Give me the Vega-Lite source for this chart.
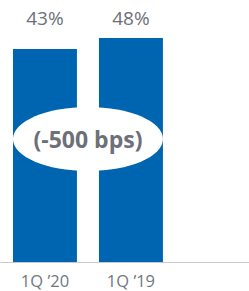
{
  "$schema": "https://vega.github.io/schema/vega-lite/v6.json",
  "width": 249,
  "height": 262,
  "autosize": "none",
  "padding": {"left": 0, "top": 0, "right": 0, "bottom": 29},
  "background": "white",
  "config": {"view": {"stroke": null}},
  "encoding": {
    "x": {
      "field": "period",
      "type": "nominal",
      "sort": null,
      "scale": {"paddingInner": 0.256, "paddingOuter": 0.576, "align": 0.131},
      "axis": {
        "title": null,
        "ticks": false,
        "domainColor": "#c8c8c8",
        "domainWidth": 1,
        "labelAngle": 0,
        "labelFont": "Open Sans",
        "labelFontSize": 16.5,
        "labelColor": "#707780",
        "labelPadding": 11
      }
    }
  },
  "layer": [
    {
      "data": {"values": [
        {"period": "1Q ’20", "value": 43, "label": "43%"},
        {"period": "1Q ’19", "value": 48, "label": "48%"}
      ]},
      "layer": [
        {
          "mark": {"type": "bar", "color": "#0065B0"},
          "encoding": {
            "y": {"field": "value", "type": "quantitative", "scale": {"domain": [-53.8, 65.3], "nice": false, "zero": false}, "axis": null},
            "y2": {"datum": -53.8}
          }
        },
        {
          "mark": {"type": "text", "font": "Open Sans", "fontSize": 19, "color": "#6b7079", "baseline": "middle"},
          "encoding": {
            "y": {"datum": 56.7, "type": "quantitative"},
            "text": {"field": "label"}
          }
        }
      ]
    },
    {
      "data": {"values": [{"period": "1Q ’20", "note": "(-500 bps)"}]},
      "layer": [
        {
          "mark": {"type": "point", "shape": "M-1,0 A1,0.4267 0 1,0 1,0 A1,0.4267 0 1,0 -1,0 Z", "size": 22500, "filled": true, "fill": "white", "opacity": 1, "strokeWidth": 0, "xOffset": 43},
          "encoding": {"y": {"datum": 2.1, "type": "quantitative"}}
        },
        {
          "mark": {"type": "text", "font": "Open Sans", "fontWeight": "bold", "fontSize": 23, "color": "#6b7079", "baseline": "middle", "xOffset": 43, "dy": 2},
          "encoding": {
            "y": {"datum": 2.1, "type": "quantitative"},
            "text": {"field": "note"}
          }
        }
      ]
    }
  ]
}
